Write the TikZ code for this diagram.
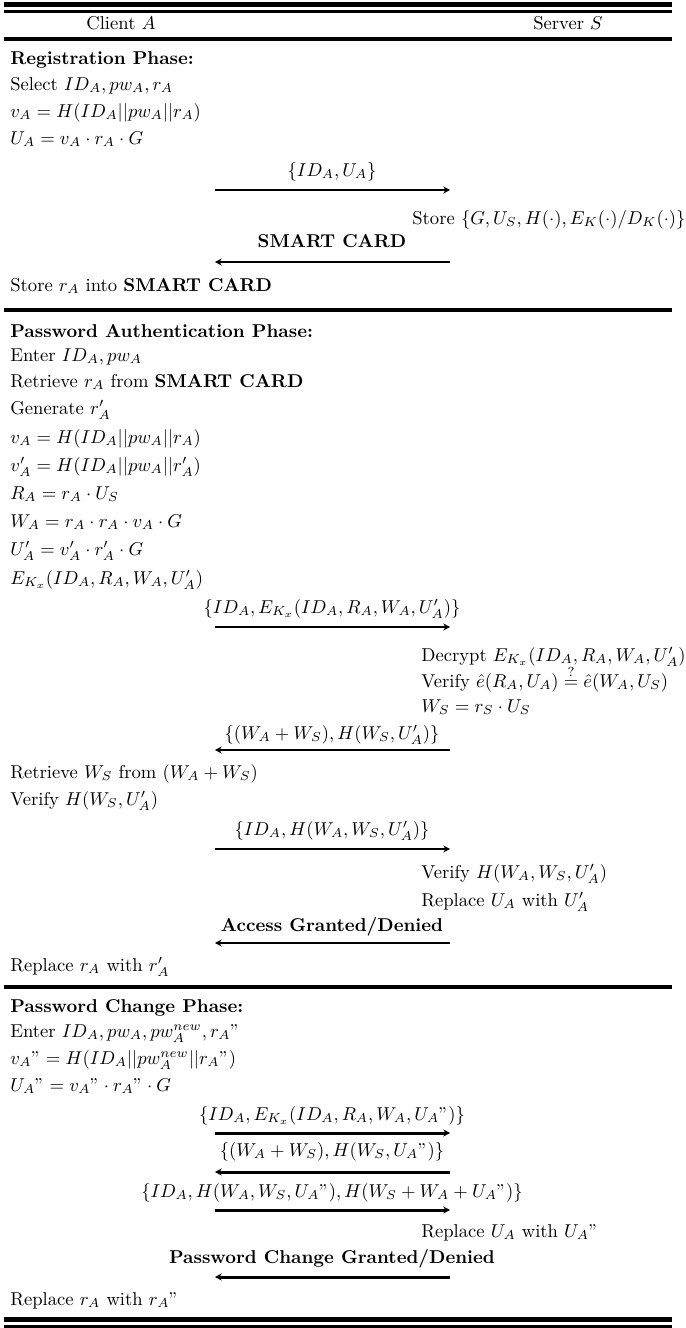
\documentclass[tikz,border=0pt]{standalone}
\usetikzlibrary{arrows.meta}
\begin{document}
\begin{tikzpicture}[x=0.5376pt,y=-0.5376pt,
  cl/.style={anchor=mid west, inner sep=0pt},
  sv/.style={anchor=mid west, inner sep=0pt},
  ml/.style={anchor=mid, inner sep=0pt},
  hd/.style={anchor=mid, inner sep=0pt},
  msg/.style={line width=1.6pt, -{Stealth[length=3.6pt,width=3.8pt]}},
  thickrule/.style={line width=2.95pt},
  thinrule/.style={line width=1.6pt},
  midrule/.style={line width=1.85pt}]
\useasboundingbox (0,0) rectangle (686,1328);
% rules
\draw[thickrule] (4,4.5) -- (672,4.5);
\draw[thinrule] (4,11.8) -- (672,11.8);
\node[hd] (client) at (121,25) {Client $A$};
\node[hd] (server) at (568,25) {Server $S$};
\draw[midrule] (4,39) -- (672,39);
% Registration
\node[cl] (reg) at (10,60) {\textbf{Registration Phase:}};
\node[cl] (r1) at (10,86) {Select $ID_A, pw_A, r_A$};
\node[cl] (r2) at (10,113) {$v_A = H(ID_A||pw_A||r_A)$};
\node[cl] (r3) at (10,140) {$U_A = v_A\cdot r_A\cdot G$};
\node[ml] (m1) at (332,172) {$\{ID_A, U_A\}$};
\coordinate (m1a) at (215,190); \coordinate (m1b) at (450,190);
\draw[msg] (m1a) -- (m1b);
\node[sv] (s1) at (412,220) {Store $\{G, U_S, H(\cdot), E_K(\cdot)/D_K(\cdot)\}$};
\node[ml] (m2) at (332,243) {\textbf{SMART CARD}};
\coordinate (m2a) at (450,262); \coordinate (m2b) at (215,262);
\draw[msg] (m2a) -- (m2b);
\node[cl] (r4) at (10,287) {Store $r_A$ into \textbf{SMART CARD}};
\draw[midrule] (4,310) -- (672,310);
% Authentication
\node[cl] (pap) at (10,333) {\textbf{Password Authentication Phase:}};
\node[cl] (a1) at (10,357) {Enter $ID_A, pw_A$};
\node[cl] (a2) at (10,383) {Retrieve $r_A$ from \textbf{SMART CARD}};
\node[cl] (a3) at (10,410) {Generate $r'_A$};
\node[cl] (a4) at (10,439) {$v_A = H(ID_A||pw_A||r_A)$};
\node[cl] (a5) at (10,467) {$v'_A = H(ID_A||pw_A||r'_A)$};
\node[cl] (a6) at (10,495) {$R_A = r_A\cdot U_S$};
\node[cl] (a7) at (10,523) {$W_A = r_A\cdot r_A\cdot v_A\cdot G$};
\node[cl] (a8) at (10,551) {$U'_A = v'_A\cdot r'_A\cdot G$};
\node[cl] (a9) at (10,580) {$E_{K_x}(ID_A, R_A, W_A, U'_A)$};
\node[ml] (m3) at (332,609) {$\{ID_A, E_{K_x}(ID_A, R_A, W_A, U'_A)\}$};
\coordinate (m3a) at (215,627); \coordinate (m3b) at (450,627);
\draw[msg] (m3a) -- (m3b);
\node[sv] (s2) at (421,657) {Decrypt $E_{K_x}(ID_A, R_A, W_A, U'_A)$};
\node[sv] (s3) at (421,683) {Verify $\hat{e}(R_A, U_A)\stackrel{?}{=}\hat{e}(W_A, U_S)$};
\node[sv] (s4) at (421,708) {$W_S = r_S\cdot U_S$};
\node[ml] (m4) at (332,735) {$\{(W_A+W_S), H(W_S, U'_A)\}$};
\coordinate (m4a) at (450,750); \coordinate (m4b) at (215,750);
\draw[msg] (m4a) -- (m4b);
\node[cl] (a10) at (10,774) {Retrieve $W_S$ from $(W_A+W_S)$};
\node[cl] (a11) at (10,801) {Verify $H(W_S, U'_A)$};
\node[ml] (m5) at (332,831) {$\{ID_A, H(W_A, W_S, U'_A)\}$};
\coordinate (m5a) at (215,849); \coordinate (m5b) at (450,849);
\draw[msg] (m5a) -- (m5b);
\node[sv] (s5) at (421,874) {Verify $H(W_A, W_S, U'_A)$};
\node[sv] (s6) at (421,902) {Replace $U_A$ with $U'_A$};
\node[ml] (m6) at (332,927) {\textbf{Access Granted/Denied}};
\coordinate (m6a) at (450,943); \coordinate (m6b) at (215,943);
\draw[msg] (m6a) -- (m6b);
\node[cl] (a12) at (10,967) {Replace $r_A$ with $r'_A$};
\draw[midrule] (4,987) -- (672,987);
% Change
\node[cl] (pcp) at (10,1008) {\textbf{Password Change Phase:}};
\node[cl] (c1) at (10,1033) {Enter $ID_A, pw_A, pw_A^{new}, r_A"$};
\node[cl] (c2) at (10,1060) {$v_A" = H(ID_A||pw_A^{new}||r_A")$};
\node[cl] (c3) at (10,1087) {$U_A" = v_A"\cdot r_A"\cdot G$};
\node[ml] (m7) at (332,1116) {$\{ID_A, E_{K_x}(ID_A, R_A, W_A, U_A")\}$};
\coordinate (m7a) at (215,1133); \coordinate (m7b) at (450,1133);
\draw[msg] (m7a) -- (m7b);
\node[ml] (m8) at (332,1152) {$\{(W_A+W_S), H(W_S, U_A")\}$};
\coordinate (m8a) at (450,1172); \coordinate (m8b) at (215,1172);
\draw[msg] (m8a) -- (m8b);
\node[ml] (m9) at (332,1193) {$\{ID_A, H(W_A, W_S, U_A"), H(W_S+W_A+U_A")\}$};
\coordinate (m9a) at (215,1210); \coordinate (m9b) at (450,1210);
\draw[msg] (m9a) -- (m9b);
\node[sv] (s7) at (421,1233) {Replace $U_A$ with $U_A"$};
\node[ml] (m10) at (332,1259) {\textbf{Password Change Granted/Denied}};
\coordinate (m10a) at (450,1277); \coordinate (m10b) at (215,1277);
\draw[msg] (m10a) -- (m10b);
\node[cl] (c4) at (10,1301) {Replace $r_A$ with $r_A"$};
\draw[thickrule] (4,1319.5) -- (672,1319.5);
\draw[thinrule] (4,1326) -- (672,1326);
\end{tikzpicture}
\end{document}
